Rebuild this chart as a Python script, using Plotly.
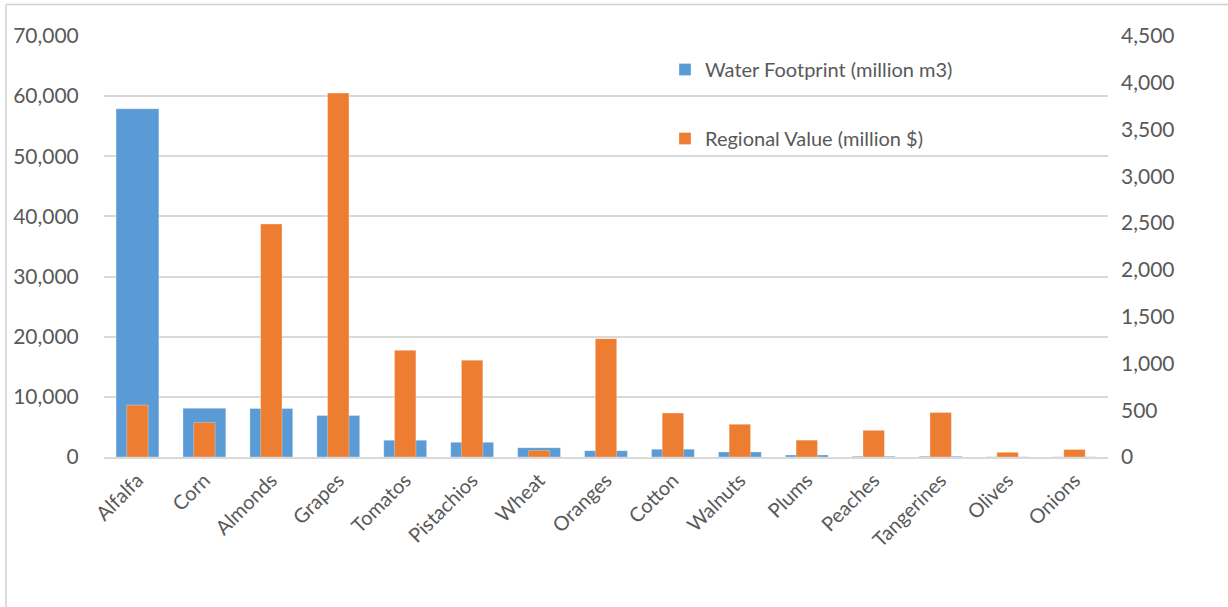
import plotly.graph_objects as go

# Crops ranked by water footprint
crops = ["Alfalfa", "Corn", "Almonds", "Grapes", "Tomatos", "Pistachios", "Wheat",
         "Oranges", "Cotton", "Walnuts", "Plums", "Peaches", "Tangerines", "Olives", "Onions"]

# Water footprint, million m3 (left axis)
water_footprint = [57900, 8100, 8050, 6900, 2800, 2450, 1550, 1050, 1300, 850, 330, 120, 120, 60, 30]

# Regional value, million $ (right axis)
regional_value = [555, 370, 2490, 3890, 1140, 1035, 70, 1265, 470, 350, 180, 285, 475, 50, 80]

left_ticks = list(range(0, 70001, 10000))
right_ticks = list(range(0, 4501, 500))

W, H = 1228, 607
ML, MR, MT, MB = 104, 108, 36, 150
PLOT_RIGHT = 1108          # right edge of the bar area, px
PW, PH = W - ML - MR, H - MT - MB

def px_x(p):
    return (p - ML) / PW

def px_y(p):
    return (H - MB - p) / PH

FONT = "Lato"
GREY_TXT = "#595959"
GRID = "#d9d9d9"

fig = go.Figure()
fig.add_trace(go.Bar(
    x=crops, y=water_footprint, name="Water Footprint (million m3)",
    marker=dict(color="#5B9BD5", line=dict(color="rgba(255,255,255,0.5)", width=0.6)),
    width=0.64, yaxis="y", legendgroup="a",
))
fig.add_trace(go.Bar(
    x=crops, y=regional_value, name="Regional Value (million $)",
    marker=dict(color="#ED7D31", line=dict(color="rgba(255,255,255,0.5)", width=0.6)),
    width=0.32, yaxis="y2", legendgroup="b",
))

fig.update_layout(
    width=W, height=H,
    margin=dict(l=ML, r=MR, t=MT, b=MB),
    paper_bgcolor="white", plot_bgcolor="white",
    barmode="overlay",
    font=dict(family=FONT, size=20, color=GREY_TXT),
    xaxis=dict(
        type="category", tickangle=-45, showgrid=False,
        domain=[0, px_x(PLOT_RIGHT)],
        showline=True, linecolor=GRID, linewidth=1.5,
        ticks="outside", ticklen=2, tickcolor="rgba(0,0,0,0)",
        tickfont=dict(family=FONT, size=20, color=GREY_TXT),
    ),
    yaxis=dict(
        range=[0, 70000], tickvals=left_ticks, tickformat=",",
        showgrid=True, gridcolor=GRID, gridwidth=1.5, zeroline=False,
        ticks="outside", ticklen=20, tickcolor="rgba(0,0,0,0)",
        tickfont=dict(family=FONT, size=21, color=GREY_TXT),
    ),
    yaxis2=dict(
        range=[0, 4500], tickvals=right_ticks, tickformat=",",
        overlaying="y", side="right", anchor="free", position=1.0,
        showgrid=False, zeroline=False, showline=False, ticks="",
        tickfont=dict(family=FONT, size=21, color=GREY_TXT),
    ),
    legend=dict(
        x=px_x(665), y=px_y(50), xanchor="left", yanchor="top",
        bgcolor="rgba(0,0,0,0)", tracegroupgap=40, itemwidth=30,
        font=dict(family=FONT, size=20, color=GREY_TXT),
    ),
    showlegend=True,
)

# Chart frame edges
fig.add_shape(type="line", xref="paper", yref="paper",
              x0=px_x(6), x1=px_x(W + 5), y0=px_y(4.5), y1=px_y(4.5),
              line=dict(color="#d0d0d0", width=1.5))
fig.add_shape(type="line", xref="paper", yref="paper",
              x0=px_x(6), x1=px_x(6), y0=px_y(4.5), y1=px_y(H + 5),
              line=dict(color="#d0d0d0", width=1.5))

# Caption above the chart frame (only its lowest strokes fall inside the page)
fig.add_annotation(
    text="<b>Figure 6: Top 15 crops ranked according to water footprint, and value by top-ranking region</b>",
    xref="paper", yref="paper", x=px_x(6), y=px_y(4),
    xanchor="left", yanchor="bottom", yshift=2, showarrow=False,
    font=dict(family="Liberation Serif", size=22, color="black"),
)

fig.write_html("out.html")
